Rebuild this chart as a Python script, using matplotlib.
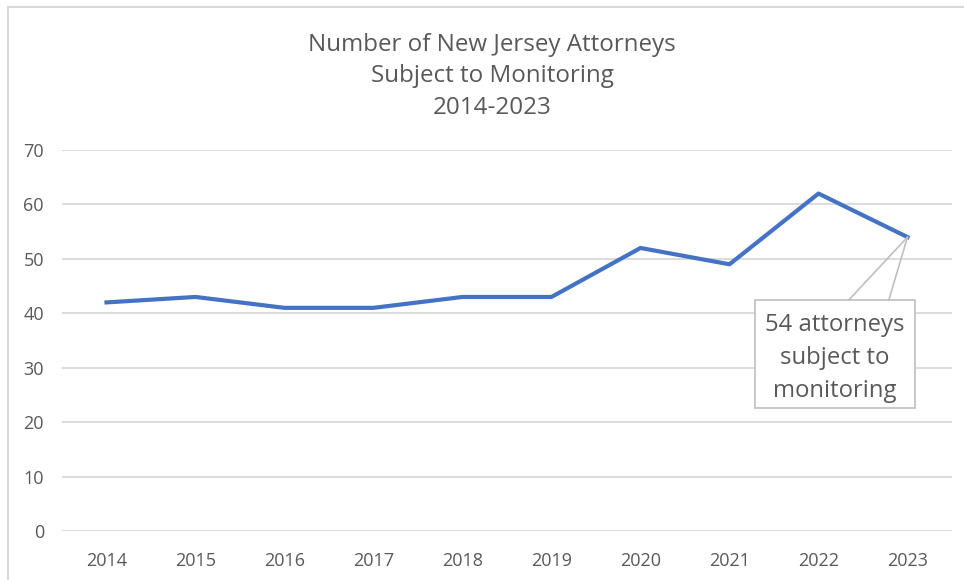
import matplotlib.pyplot as plt
from matplotlib.lines import Line2D
from matplotlib.patches import Rectangle

years = ["2014", "2015", "2016", "2017", "2018", "2019", "2020", "2021", "2022", "2023"]
attorneys = [42, 43, 41, 41, 43, 43, 52, 49, 62, 54]
y_ticks = [0, 10, 20, 30, 40, 50, 60, 70]
callout_text = "54 attorneys\nsubject to\nmonitoring"

plt.rcParams['font.family'] = ['Open Sans', 'DejaVu Sans']
text_color = "#595959"
grid_color = "#d9d9d9"

W, H = 964, 580
fig = plt.figure(figsize=(W / 100, H / 100), dpi=100)
ax = fig.add_axes([62 / W, (H - 531) / H, (952 - 62) / W, (531 - 150) / H])

x = list(range(len(years)))
ax.plot(x, attorneys, color="#4472c4", linewidth=3, solid_joinstyle="round", zorder=3)

ax.set_xlim(-0.5, len(years) - 0.5)
ax.set_ylim(0, 70)
ax.set_xticks(x)
ax.set_xticklabels(years)
ax.set_yticks(y_ticks)
ax.tick_params(axis="both", length=0, labelsize=13, colors=text_color)
ax.tick_params(axis="x", pad=15)
ax.tick_params(axis="y", pad=13)
ax.grid(axis="y", color=grid_color, linewidth=1.3)
ax.set_axisbelow(True)
for s in ax.spines.values():
    s.set_visible(False)

# title
fig.text(492 / W, 1 - 76.5 / H, "Number of New Jersey Attorneys\nSubject to Monitoring\n2014-2023",
         ha="center", va="center", fontsize=17.4, color=text_color, linespacing=1.42)

# callout for last point
px, py = x[-1], attorneys[-1]
bx0, bx1 = px - 1.71, px + 0.08
by0, by1 = py - 31.4, py - 11.56
ax.add_patch(Rectangle((bx0, by0), bx1 - bx0, by1 - by0, facecolor="white",
                       edgecolor="#bfbfbf", linewidth=1.2, zorder=4))
for tx in (px - 0.66, px - 0.21):
    ax.plot([px, tx], [py, by1], color="#bfbfbf", linewidth=1.2, zorder=4)
ax.text((bx0 + bx1) / 2, (by0 + by1) / 2 - 0.75, callout_text, ha="center", va="center",
        fontsize=17.2, color=text_color, linespacing=1.48, zorder=5)

# chart frame
fig.add_artist(Line2D([8 / W, 1], [1 - 7 / H] * 2, color=grid_color, linewidth=1.5))
fig.add_artist(Line2D([8 / W] * 2, [0, 1 - 7 / H], color=grid_color, linewidth=1.5))

fig.savefig("out.png", dpi=100)
